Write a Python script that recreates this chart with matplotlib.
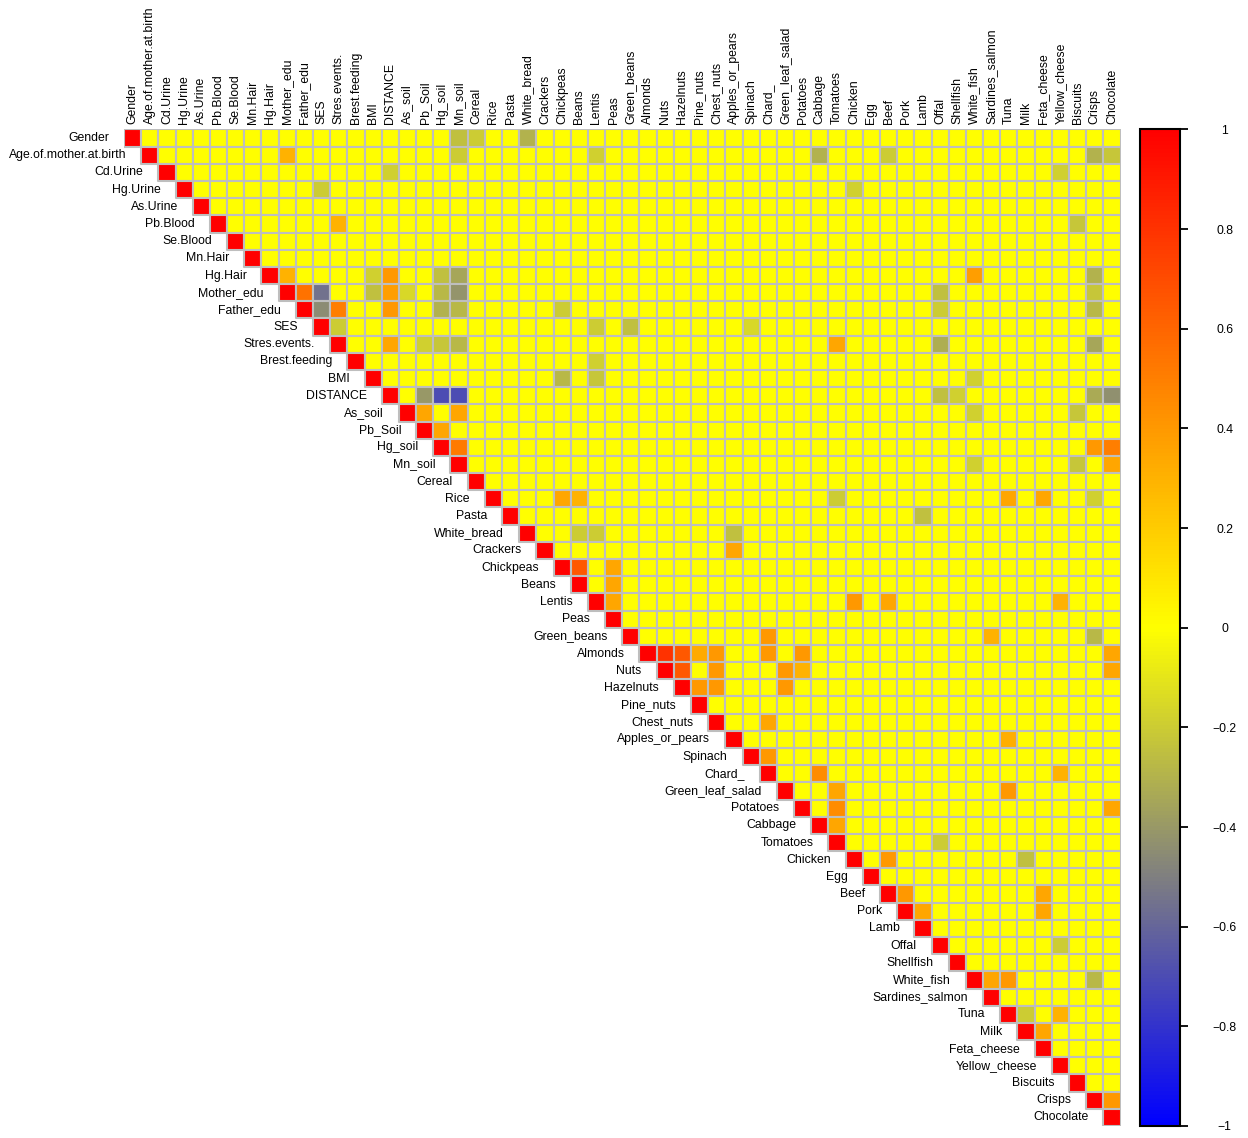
# Matriz de correlación (triángulo superior) al estilo corrplot
import numpy as np
import matplotlib.pyplot as plt
from matplotlib.colors import LinearSegmentedColormap, Normalize
from matplotlib.patches import Rectangle
from matplotlib.collections import PatchCollection

plt.rcParams['font.family'] = ['Liberation Sans', 'DejaVu Sans']

# 1. Variables
variables = ['Gender', 'Age.of.mother.at.birth', 'Cd.Urine', 'Hg.Urine', 'As.Urine',
             'Pb.Blood', 'Se.Blood', 'Mn.Hair', 'Hg.Hair', 'Mother_edu', 'Father_edu',
             'SES', 'Stres.events.', 'Brest.feeding', 'BMI', 'DISTANCE', 'As_soil',
             'Pb_Soil', 'Hg_soil', 'Mn_soil', 'Cereal', 'Rice', 'Pasta', 'White_bread',
             'Crackers', 'Chickpeas', 'Beans', 'Lentis', 'Peas', 'Green_beans', 'Almonds',
             'Nuts', 'Hazelnuts', 'Pine_nuts', 'Chest_nuts', 'Apples_or_pears', 'Spinach',
             'Chard_', 'Green_leaf_salad', 'Potatoes', 'Cabbage', 'Tomatoes', 'Chicken',
             'Egg', 'Beef', 'Pork', 'Lamb', 'Offal', 'Shellfish', 'White_fish',
             'Sardines_salmon', 'Tuna', 'Milk', 'Feta_cheese', 'Yellow_cheese', 'Biscuits',
             'Crisps', 'Chocolate']

# 2. Correlaciones (el resto ~0)
corr_personales = [
    ('Gender', 'Mn_soil', -0.25), ('Gender', 'Cereal', -0.2), ('Gender', 'White_bread', -0.3),
    ('Age.of.mother.at.birth', 'Mother_edu', 0.3), ('Age.of.mother.at.birth', 'Mn_soil', -0.2),
    ('Age.of.mother.at.birth', 'Lentis', -0.18), ('Age.of.mother.at.birth', 'Cabbage', -0.3),
    ('Age.of.mother.at.birth', 'Beef', -0.2), ('Age.of.mother.at.birth', 'Crisps', -0.3),
    ('Age.of.mother.at.birth', 'Chocolate', -0.22),
    ('Cd.Urine', 'DISTANCE', -0.18), ('Cd.Urine', 'Yellow_cheese', -0.18),
    ('Hg.Urine', 'SES', -0.2), ('Hg.Urine', 'Chicken', -0.18),
    ('Pb.Blood', 'Stres.events.', 0.3), ('Pb.Blood', 'Biscuits', -0.22),
    ('Hg.Hair', 'Mother_edu', 0.3), ('Hg.Hair', 'BMI', -0.18), ('Hg.Hair', 'DISTANCE', 0.4),
    ('Hg.Hair', 'Hg_soil', -0.25), ('Hg.Hair', 'Mn_soil', -0.35), ('Hg.Hair', 'White_fish', 0.38),
    ('Hg.Hair', 'Crisps', -0.3),
    ('Mother_edu', 'Father_edu', 0.55), ('Mother_edu', 'SES', -0.55), ('Mother_edu', 'BMI', -0.25),
    ('Mother_edu', 'DISTANCE', 0.38), ('Mother_edu', 'As_soil', -0.15), ('Mother_edu', 'Hg_soil', -0.28),
    ('Mother_edu', 'Mn_soil', -0.42), ('Mother_edu', 'Offal', -0.25), ('Mother_edu', 'Crisps', -0.22),
    ('Father_edu', 'SES', -0.45), ('Father_edu', 'Stres.events.', 0.5), ('Father_edu', 'DISTANCE', 0.4),
    ('Father_edu', 'Hg_soil', -0.3), ('Father_edu', 'Mn_soil', -0.28), ('Father_edu', 'Chickpeas', -0.2),
    ('Father_edu', 'Offal', -0.2), ('Father_edu', 'Crisps', -0.28),
    ('SES', 'Stres.events.', -0.2), ('SES', 'Lentis', -0.2), ('SES', 'Green_beans', -0.25),
    ('SES', 'Spinach', -0.15),
    ('Stres.events.', 'DISTANCE', 0.35), ('Stres.events.', 'Pb_Soil', -0.18),
    ('Stres.events.', 'Hg_soil', -0.22), ('Stres.events.', 'Mn_soil', -0.28),
    ('Stres.events.', 'Tomatoes', 0.35), ('Stres.events.', 'Offal', -0.32),
    ('Stres.events.', 'Crisps', -0.35),
    ('Brest.feeding', 'Lentis', -0.18),
    ('BMI', 'Chickpeas', -0.28), ('BMI', 'Lentis', -0.22), ('BMI', 'White_fish', -0.18),
]

corr_suelo = [
    ('DISTANCE', 'Pb_Soil', -0.4), ('DISTANCE', 'Hg_soil', -0.7), ('DISTANCE', 'Mn_soil', -0.7),
    ('DISTANCE', 'Offal', -0.25), ('DISTANCE', 'Shellfish', -0.18), ('DISTANCE', 'Crisps', -0.33),
    ('DISTANCE', 'Chocolate', -0.43),
    ('As_soil', 'Pb_Soil', 0.35), ('As_soil', 'Mn_soil', 0.35), ('As_soil', 'White_fish', -0.18),
    ('As_soil', 'Biscuits', -0.22),
    ('Pb_Soil', 'Hg_soil', 0.35),
    ('Hg_soil', 'Mn_soil', 0.52), ('Hg_soil', 'Crisps', 0.4), ('Hg_soil', 'Chocolate', 0.5),
    ('Mn_soil', 'White_fish', -0.18), ('Mn_soil', 'Biscuits', -0.22), ('Mn_soil', 'Chocolate', 0.35),
]

corr_dieta = [
    ('Rice', 'Chickpeas', 0.35), ('Rice', 'Beans', 0.3), ('Rice', 'Tomatoes', -0.2),
    ('Rice', 'Tuna', 0.35), ('Rice', 'Feta_cheese', 0.35), ('Rice', 'Crisps', -0.18),
    ('Pasta', 'Lamb', -0.25),
    ('White_bread', 'Beans', -0.2), ('White_bread', 'Lentis', -0.2),
    ('White_bread', 'Apples_or_pears', -0.25),
    ('Crackers', 'Apples_or_pears', 0.35),
    ('Chickpeas', 'Beans', 0.65), ('Chickpeas', 'Peas', 0.35),
    ('Beans', 'Peas', 0.35),
    ('Lentis', 'Peas', 0.35), ('Lentis', 'Chicken', 0.4), ('Lentis', 'Beef', 0.35),
    ('Lentis', 'Yellow_cheese', 0.3),
    ('Green_beans', 'Chard_', 0.4), ('Green_beans', 'Sardines_salmon', 0.3),
    ('Green_beans', 'Crisps', -0.28),
    ('Almonds', 'Nuts', 0.8), ('Almonds', 'Hazelnuts', 0.65), ('Almonds', 'Pine_nuts', 0.33),
    ('Almonds', 'Chest_nuts', 0.4), ('Almonds', 'Chard_', 0.4), ('Almonds', 'Potatoes', 0.4),
    ('Almonds', 'Chocolate', 0.35),
    ('Nuts', 'Hazelnuts', 0.65), ('Nuts', 'Chest_nuts', 0.4), ('Nuts', 'Green_leaf_salad', 0.4),
    ('Nuts', 'Potatoes', 0.3), ('Nuts', 'Chocolate', 0.35),
    ('Hazelnuts', 'Pine_nuts', 0.4), ('Hazelnuts', 'Chest_nuts', 0.4),
    ('Hazelnuts', 'Green_leaf_salad', 0.4),
    ('Chest_nuts', 'Chard_', 0.35),
    ('Apples_or_pears', 'Tuna', 0.32),
    ('Spinach', 'Chard_', 0.4),
    ('Chard_', 'Cabbage', 0.45), ('Chard_', 'Yellow_cheese', 0.3),
    ('Green_leaf_salad', 'Tomatoes', 0.35), ('Green_leaf_salad', 'Tuna', 0.4),
    ('Potatoes', 'Tomatoes', 0.45), ('Potatoes', 'Chocolate', 0.35),
    ('Cabbage', 'Tomatoes', 0.35),
    ('Tomatoes', 'Offal', -0.2),
    ('Chicken', 'Beef', 0.4), ('Chicken', 'Milk', -0.25),
    ('Beef', 'Pork', 0.4), ('Beef', 'Feta_cheese', 0.35),
    ('Pork', 'Lamb', 0.35), ('Pork', 'Feta_cheese', 0.35),
    ('Offal', 'Yellow_cheese', -0.2),
    ('White_fish', 'Sardines_salmon', 0.35), ('White_fish', 'Tuna', 0.4),
    ('White_fish', 'Crisps', -0.28),
    ('Tuna', 'Milk', -0.2), ('Tuna', 'Yellow_cheese', 0.3),
    ('Milk', 'Feta_cheese', 0.35),
    ('Crisps', 'Chocolate', 0.4),
]

marcas = [1, 0.8, 0.6, 0.4, 0.2, 0, -0.2, -0.4, -0.6, -0.8, -1]
etiquetas_barra = ['1', '0.8', '0.6', '0.4', '0.2', '0', '\u22120.2', '\u22120.4',
                   '\u22120.6', '\u22120.8', '\u22121']

# 3. Construir la matriz
n = len(variables)
pos = {v: i for i, v in enumerate(variables)}
matriz = np.eye(n)
for a, b, r in corr_personales + corr_suelo + corr_dieta:
    matriz[pos[a], pos[b]] = r
    matriz[pos[b], pos[a]] = r

# paleta: azul -> gris -> amarillo -> rojo
paleta = LinearSegmentedColormap.from_list(
    'corr', [(0.0, '#0000FF'), (0.25, '#808080'), (0.5, '#FFFF00'), (1.0, '#FF0000')])
norma = Normalize(vmin=-1, vmax=1)

# 4. Figura
W, H = 1248, 1138
fig = plt.figure(figsize=(W / 100, H / 100), dpi=100)
izq, arriba, der, abajo = 124, 129.5, 1120.5, 1126
ax = fig.add_axes([izq / W, 1 - abajo / H, (der - izq) / W, (abajo - arriba) / H])

# solo celdas del triángulo superior (incluida la diagonal)
celdas, valores = [], []
for fila in range(n):
    for col in range(fila, n):
        celdas.append(Rectangle((col - 0.5, fila - 0.5), 1, 1))
        valores.append(matriz[fila, col])
coleccion = PatchCollection(celdas, cmap=paleta, norm=norma,
                            edgecolor='#BEBEBE', linewidth=1.5)
coleccion.set_array(np.array(valores))
ax.add_collection(coleccion)
ax.set_xlim(-0.5, n - 0.5)
ax.set_ylim(n - 0.5, -0.5)
ax.axis('off')

fs = 8.8
for i, v in enumerate(variables):
    ax.text(i, -0.8, v, rotation=90, ha='center', va='bottom', fontsize=fs)
    ax.text(i - 1.37, i, v, ha='right', va='center', fontsize=fs)

# 5. Barra de color
cax = fig.add_axes([1139.5 / W, 1 - abajo / H, 40 / W, (abajo - arriba) / H])
cb = fig.colorbar(coleccion, cax=cax, ticks=marcas)
cb.outline.set_linewidth(1.5)
cb.ax.set_yticklabels(etiquetas_barra)
cb.ax.tick_params(length=5.5, width=1.3, pad=27, labelsize=fs)
for t in cb.ax.get_yticklabels():
    t.set_ha('center')

fig.savefig('out.png', dpi=100)
